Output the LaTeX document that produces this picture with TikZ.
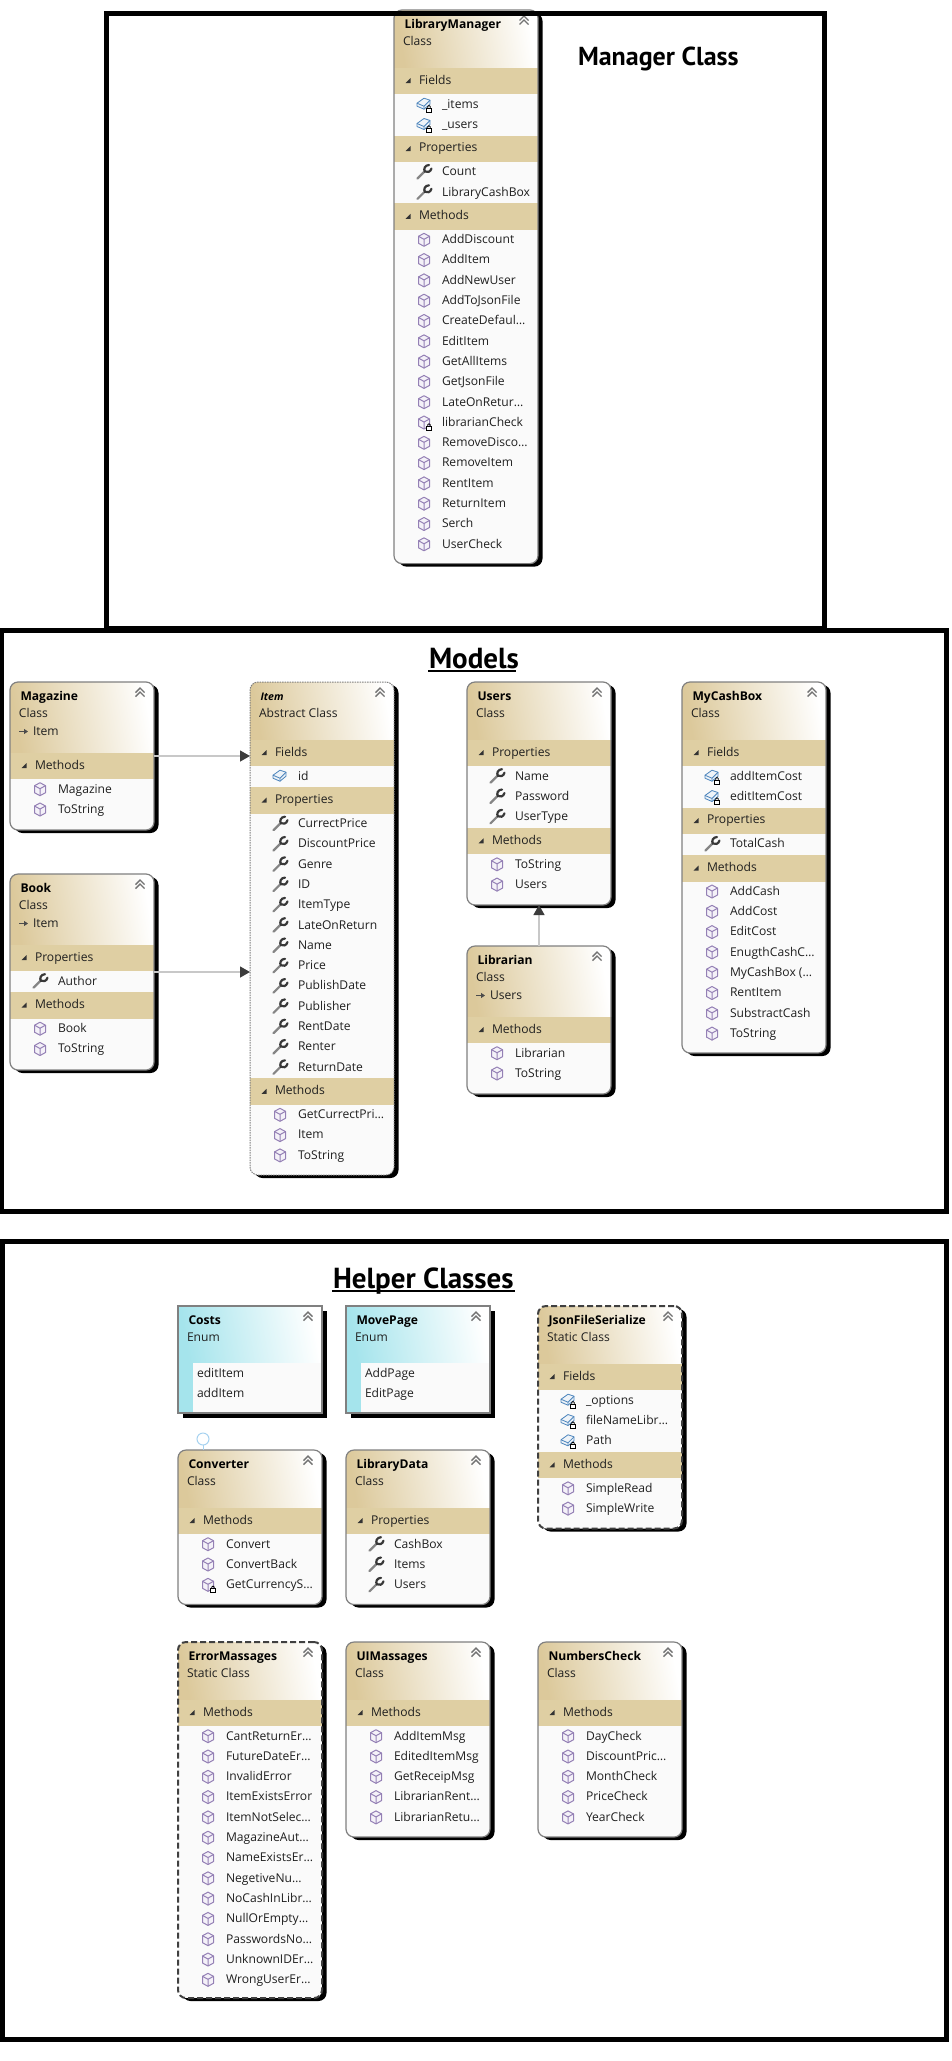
\documentclass[tikz,border=0pt]{standalone}
\usepackage{fontspec}
\setmainfont{Open Sans}
\newfontfamily\headfont{PT Sans}
\usetikzlibrary{arrows.meta,shapes.geometric}
\definecolor{bandc}{HTML}{DFCFA3}
\definecolor{bodyc}{HTML}{FAFAFA}
\definecolor{tanc}{HTML}{DCC99B}
\definecolor{cyanc}{HTML}{A5E4EC}
\definecolor{edgec}{HTML}{808080}
\definecolor{dashc}{HTML}{404040}
\definecolor{linkc}{HTML}{C8C8C8}
\definecolor{tipc}{HTML}{3C3C3C}
\definecolor{lollyc}{HTML}{A6D2F0}
\definecolor{cubeline}{HTML}{9480B5}
\definecolor{cubefill}{HTML}{F4F1F8}
\definecolor{fieldline}{HTML}{4B84BC}
\definecolor{fieldfill}{HTML}{EEF3F8}
\tikzset{
  normalborder/.style={draw=edgec,line width=1.2pt,rounded corners=8pt},
  abstractborder/.style={draw=edgec,line width=1pt,dash pattern=on 1.5pt off 1pt,rounded corners=8pt},
  staticborder/.style={draw=dashc,line width=2pt,dash pattern=on 6pt off 3pt,rounded corners=8pt},
  enumborder/.style={draw=edgec,line width=1.2pt},
  boxfont/.style={inner sep=0pt,outer sep=0pt,yshift=-1.2pt,font=\fontsize{12.1}{14}\selectfont,text=black!88},
  rowtext/.style={boxfont,anchor=mid west},
  titletext/.style={inner sep=0pt,outer sep=0pt,yshift=-1pt,anchor=mid west,font=\fontsize{12.1}{14}\selectfont\bfseries,text=black},
  headtext/.style={inner sep=0pt,outer sep=0pt,anchor=base west,font=\headfont\fontsize{26}{30}\selectfont\bfseries,text=black},
  headbig/.style={headtext,font=\headfont\fontsize{29}{33}\selectfont\bfseries},
  link/.style={draw=linkc,line width=1.3pt,-{Triangle[length=10pt,width=11pt,color=tipc]}},
  framestyle/.style={draw=black,line width=5pt,miter limit=10},
  lolly/.style={circle,draw=lollyc,line width=1pt,minimum size=12pt,inner sep=0pt,outer sep=0pt}
}
\newcounter{nn}
% icons
\newcommand{\icwrench}{%
  \draw[color=black!48,line width=2.2pt,line cap=round] (-6.5,6.5)--(0.8,-0.8);
  \draw[color=black!78,line width=2.2pt,line cap=round] (5,-7) .. controls (0.8,-7) and (-0.8,-2.5) .. (1,-0.5) .. controls (3,1) and (6.5,0) .. (7.5,-3.5);
}
\newcommand{\lockpart}{%
  \draw[black,line width=0.8pt] (3.8,4) -- (3.8,2.2) .. controls (3.8,1) and (6.2,1) .. (6.2,2.2) -- (6.2,4);
  \draw[black,fill=white,line width=0.8pt] (2.5,4) rectangle (7.5,8);
}
\newcommand{\fieldshape}{%
  \draw[fieldline,fill=fieldfill,line width=0.8pt,line join=round] (-7,-1)--(0,-6)--(6,-4)--(6,0)--(0,5)--(-7,2)--cycle;
  \draw[fieldline,line width=0.8pt] (-7,-1)--(0,2)--(6,-4) (0,2)--(0,5);
}
\newcommand{\icfield}{\fieldshape}
\newcommand{\icfieldlock}{\fieldshape\lockpart}
\newcommand{\cubeshape}{%
  \draw[cubeline,fill=cubefill,line width=1pt,line join=round] (0,-6.5)--(5.5,-3.5)--(5.5,3.5)--(0,6.5)--(-5.5,3.5)--(-5.5,-3.5)--cycle;
  \draw[cubeline,line width=1pt] (-5.5,-3.5)--(0,-0.5)--(5.5,-3.5) (0,-0.5)--(0,6.5);
}
\newcommand{\iccube}{\cubeshape}
\newcommand{\iccubelock}{\cubeshape\lockpart}
% class box: style, name, L, T, B, header height, title, subtitle
\newcommand{\ubegin}[8]{%
  \tikzset{curborder/.style={#1}}%
  \gdef\uname{#2}\gdef\uL{#3}\gdef\uT{#4}\gdef\uB{#5}%
  \pgfmathsetmacro\hb{#4+#6+0.7}%
  \pgfmathparse{#4+#6+0.7+9.3}\xdef\cy{\pgfmathresult}%
  \fill[black,rounded corners=8pt] (#3+4.5,#4+3) rectangle (#3+148.5,#5+3);
  \begin{scope}
  \clip[rounded corners=8pt] (#3,#4) rectangle (#3+144,#5);
  \fill[bodyc] (#3,#4) rectangle (#3+144,#5);
  \shade[left color=tanc,right color=white,shading angle=100] (#3,#4) rectangle (#3+144,\hb);
  \stepcounter{nn}\node[titletext] (n\arabic{nn}) at (#3+10.5,#4+14.5) {#7};
  \stepcounter{nn}\node[rowtext] (n\arabic{nn}) at (#3+9,#4+32) {#8};
  \uchevron{#3}{#4}%
}
\newcommand{\uchevron}[2]{%
  \draw[black!55,line width=1.4pt] (#1+125.5,#2+10.5)--(#1+130,#2+6)--(#1+134.5,#2+10.5);
  \draw[black!55,line width=1.4pt] (#1+125.5,#2+14.5)--(#1+130,#2+10)--(#1+134.5,#2+14.5);
}
\newcommand{\uinherit}[1]{%
  \draw[black!70,line width=0.9pt,-{Triangle[length=4pt,width=5pt]}] (\uL+9,\uT+49.5)--(\uL+18,\uT+49.5);
  \stepcounter{nn}\node[rowtext] (n\arabic{nn}) at (\uL+23,\uT+50) {#1};
}
\newcommand{\usec}[1]{%
  \pgfmathsetmacro\bt{\cy-9.3}%
  \fill[bandc] (\uL,\bt) rectangle (\uL+144,\bt+26.5);
  \fill[black!80] (\uL+11.5,\bt+15.5)--(\uL+16.5,\bt+15.5)--(\uL+16.5,\bt+10.5)--cycle;
  \stepcounter{nn}\node[rowtext] (n\arabic{nn}) at (\uL+25,\bt+12.5) {#1};
  \pgfmathparse{\bt+36.5}\xdef\cy{\pgfmathresult}%
}
\newcommand{\urow}[2]{%
  \begin{scope}[shift={(\uL+30,\cy)}]#1\end{scope}
  \stepcounter{nn}\node[rowtext] (n\arabic{nn}) at (\uL+48,\cy) {#2};
  \pgfmathparse{\cy+20.3}\xdef\cy{\pgfmathresult}%
}
\newcommand{\uend}{%
  \end{scope}
  \pgfmathsetmacro\cenx{\uL+72}\pgfmathsetmacro\ceny{(\uT+\uB)/2}\pgfmathsetmacro\hh{\uB-\uT}%
  \node[curborder,inner sep=0pt,outer sep=0pt,minimum width=144pt,minimum height=\hh pt] (\uname) at (\cenx,\ceny) {};
}
\newcommand{\uenum}[6]{% name L T B item1 item2
  \fill[black] (#2+5,#3+5) rectangle (#2+149,#4+5);
  \fill[white] (#2,#3) rectangle (#2+144,#4);
  \shade[left color=cyanc,right color=white,shading angle=100] (#2,#3) rectangle (#2+144,#3+57);
  \fill[cyanc] (#2,#3+57) rectangle (#2+15,#4);
  \fill[bodyc] (#2+15,#3+57) rectangle (#2+144,#4);
  \stepcounter{nn}\node[titletext] (n\arabic{nn}) at (#2+10.5,#3+14.5) {#1};
  \stepcounter{nn}\node[rowtext] (n\arabic{nn}) at (#2+9,#3+32) {Enum};
  \uchevron{#2}{#3}
  \stepcounter{nn}\node[rowtext] (n\arabic{nn}) at (#2+19,#3+68) {#5};
  \stepcounter{nn}\node[rowtext] (n\arabic{nn}) at (#2+19,#3+88) {#6};
  \pgfmathsetmacro\cenx{#2+72}\pgfmathsetmacro\ceny{(#3+#4)/2}\pgfmathsetmacro\hh{#4-#3}%
  \node[enumborder,inner sep=0pt,outer sep=0pt,minimum width=144pt,minimum height=\hh pt] (enum#1) at (\cenx,\ceny) {};
}
\begin{document}
\begin{tikzpicture}[x=1pt,y=-1pt]
\useasboundingbox (0,0) rectangle (952,2061);
\fill[white] (0,0) rectangle (952,2061);

% ---------- Manager
\ubegin{normalborder}{librarymanager}{394}{10}{563.6}{57}{LibraryManager}{Class}
\usec{Fields}
\urow{\icfieldlock}{\_items}
\urow{\icfieldlock}{\_users}
\usec{Properties}
\urow{\icwrench}{Count}
\urow{\icwrench}{LibraryCashBox}
\usec{Methods}
\urow{\iccube}{AddDiscount}
\urow{\iccube}{AddItem}
\urow{\iccube}{AddNewUser}
\urow{\iccube}{AddToJsonFile}
\urow{\iccube}{CreateDefaul…}
\urow{\iccube}{EditItem}
\urow{\iccube}{GetAllItems}
\urow{\iccube}{GetJsonFile}
\urow{\iccube}{LateOnRetur…}
\urow{\iccubelock}{librarianCheck}
\urow{\iccube}{RemoveDisco…}
\urow{\iccube}{RemoveItem}
\urow{\iccube}{RentItem}
\urow{\iccube}{ReturnItem}
\urow{\iccube}{Serch}
\urow{\iccube}{UserCheck}
\uend

% ---------- Models
\ubegin{normalborder}{magazine}{10}{682}{830}{70}{Magazine}{Class}
\uinherit{Item}
\usec{Methods}
\urow{\iccube}{Magazine}
\urow{\iccube}{ToString}
\uend

\ubegin{normalborder}{book}{10}{874}{1070}{70}{Book}{Class}
\uinherit{Item}
\usec{Properties}
\urow{\icwrench}{Author}
\usec{Methods}
\urow{\iccube}{Book}
\urow{\iccube}{ToString}
\uend

\ubegin{abstractborder}{item}{250}{682}{1175}{57}{\fontsize{10.5}{13}\selectfont\itshape Item}{Abstract Class}
\usec{Fields}
\urow{\icfield}{id}
\usec{Properties}
\urow{\icwrench}{CurrectPrice}
\urow{\icwrench}{DiscountPrice}
\urow{\icwrench}{Genre}
\urow{\icwrench}{ID}
\urow{\icwrench}{ItemType}
\urow{\icwrench}{LateOnReturn}
\urow{\icwrench}{Name}
\urow{\icwrench}{Price}
\urow{\icwrench}{PublishDate}
\urow{\icwrench}{Publisher}
\urow{\icwrench}{RentDate}
\urow{\icwrench}{Renter}
\urow{\icwrench}{ReturnDate}
\usec{Methods}
\urow{\iccube}{GetCurrectPri…}
\urow{\iccube}{Item}
\urow{\iccube}{ToString}
\uend

\ubegin{normalborder}{users}{467}{682}{905}{57}{Users}{Class}
\usec{Properties}
\urow{\icwrench}{Name}
\urow{\icwrench}{Password}
\urow{\icwrench}{UserType}
\usec{Methods}
\urow{\iccube}{ToString}
\urow{\iccube}{Users}
\uend

\ubegin{normalborder}{librarian}{467}{946}{1094}{70}{Librarian}{Class}
\uinherit{Users}
\usec{Methods}
\urow{\iccube}{Librarian}
\urow{\iccube}{ToString}
\uend

\ubegin{normalborder}{mycashbox}{682}{682}{1053}{57}{MyCashBox}{Class}
\usec{Fields}
\urow{\icfieldlock}{addItemCost}
\urow{\icfieldlock}{editItemCost}
\usec{Properties}
\urow{\icwrench}{TotalCash}
\usec{Methods}
\urow{\iccube}{AddCash}
\urow{\iccube}{AddCost}
\urow{\iccube}{EditCost}
\urow{\iccube}{EnugthCashC…}
\urow{\iccube}{MyCashBox  (…}
\urow{\iccube}{RentItem}
\urow{\iccube}{SubstractCash}
\urow{\iccube}{ToString}
\uend

% ---------- Helpers
\uenum{Costs}{178}{1306}{1413}{editItem}{addItem}
\uenum{MovePage}{346}{1306}{1413}{AddPage}{EditPage}

\ubegin{normalborder}{converter}{178}{1450}{1604.5}{57}{Converter}{Class}
\usec{Methods}
\urow{\iccube}{Convert}
\urow{\iccube}{ConvertBack}
\urow{\iccubelock}{GetCurrencyS…}
\uend

\ubegin{normalborder}{librarydata}{346}{1450}{1604.5}{57}{LibraryData}{Class}
\usec{Properties}
\urow{\icwrench}{CashBox}
\urow{\icwrench}{Items}
\urow{\icwrench}{Users}
\uend

\ubegin{staticborder}{jsonfile}{538}{1306}{1528.5}{57}{JsonFileSerialize}{Static Class}
\usec{Fields}
\urow{\icfieldlock}{\_options}
\urow{\icfieldlock}{fileNameLibr…}
\urow{\icfieldlock}{Path}
\usec{Methods}
\urow{\iccube}{SimpleRead}
\urow{\iccube}{SimpleWrite}
\uend

\ubegin{staticborder}{errormassages}{178}{1642}{1998}{57}{ErrorMassages}{Static Class}
\usec{Methods}
\urow{\iccube}{CantReturnEr…}
\urow{\iccube}{FutureDateEr…}
\urow{\iccube}{InvalidError}
\urow{\iccube}{ItemExistsError}
\urow{\iccube}{ItemNotSelec…}
\urow{\iccube}{MagazineAut…}
\urow{\iccube}{NameExistsEr…}
\urow{\iccube}{NegetiveNu…}
\urow{\iccube}{NoCashInLibr…}
\urow{\iccube}{NullOrEmpty…}
\urow{\iccube}{PasswordsNo…}
\urow{\iccube}{UnknownIDEr…}
\urow{\iccube}{WrongUserEr…}
\uend

\ubegin{normalborder}{uimassages}{346}{1642}{1837}{57}{UIMassages}{Class}
\usec{Methods}
\urow{\iccube}{AddItemMsg}
\urow{\iccube}{EditedItemMsg}
\urow{\iccube}{GetReceipMsg}
\urow{\iccube}{LibrarianRent…}
\urow{\iccube}{LibrarianRetu…}
\uend

\ubegin{normalborder}{numberscheck}{538}{1642}{1837}{57}{NumbersCheck}{Class}
\usec{Methods}
\urow{\iccube}{DayCheck}
\urow{\iccube}{DiscountPric…}
\urow{\iccube}{MonthCheck}
\urow{\iccube}{PriceCheck}
\urow{\iccube}{YearCheck}
\uend

% ---------- connectors
\draw[link] (magazine.east) -- (magazine.east -| item.west);
\draw[link] (book.east) -- (book.east -| item.west);
\draw[link] (librarian.north) -- (users.south);
\node[lolly] (convlolly) at (203,1439) {};
\draw[lollyc,line width=1pt] (convlolly.south) -- (convlolly.south |- converter.north);

% ---------- frames
\draw[framestyle] (106.5,13.5) rectangle (824.5,628.5);
\draw[framestyle] (1,630.5) rectangle (946.5,1211.5);
\draw[framestyle] (2.5,1241.5) rectangle (946.5,2039.5);

% ---------- headings
\node[headtext] (titlemanager) at (578,65) {Manager Class};
\node[headbig] (titlemodels) at (429,668) {Models};
\node[headbig] (titlehelper) at (333,1288) {Helper Classes};
\fill[black] (428,669.5) rectangle (516,672);
\fill[black] (332,1289.5) rectangle (515,1292);
\end{tikzpicture}
\end{document}
